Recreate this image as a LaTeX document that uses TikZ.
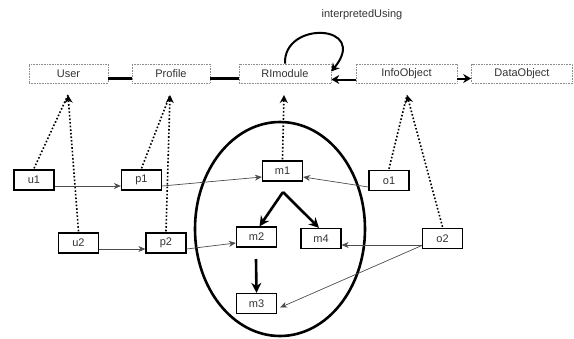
\documentclass[tikz,border=0pt]{standalone}
\usepackage{fontspec}
\setmainfont{Liberation Sans}
\usetikzlibrary{arrows.meta}
\begin{document}
\begin{tikzpicture}[x=1pt,y=-1pt,
  topbox/.style={draw=black!45, densely dotted, line width=0.6pt, fill=white, minimum height=19pt, inner sep=0pt, font=\fontsize{11}{13}\selectfont, text=black!80},
  lowbox/.style={draw=black, line width=1.3pt, fill=white, minimum width=40pt, minimum height=20pt, inner sep=0pt, font=\fontsize{11}{13}\selectfont, text=black!80},
  assoc/.style={line width=2.2pt},
  dotarrow/.style={line width=1.6pt, dotted, -{Stealth[length=8pt,width=8pt]}},
  dotline/.style={line width=1.6pt, dotted},
  thin/.style={line width=0.7pt, draw=black!70, -{Stealth[length=7pt,width=6pt]}},
  bold/.style={line width=2.6pt, -{Stealth[length=10pt,width=10pt]}},
  topArrow/.style={line width=2pt, -{Stealth[length=8pt,width=9pt]}}
]
\useasboundingbox (0,0) rectangle (574,338);
% ellipse
\draw[line width=2.6pt] (280,229) ellipse [x radius=85, y radius=107];

\coordinate (userT) at (68,95);
\coordinate (profT) at (170,95);
\coordinate (rimT) at (284,95);
\coordinate (infoT) at (407,95);

% top row
\node[topbox, minimum width=79pt] (user) at (68.5,73.5) {User};
\node[topbox, minimum width=78pt] (profile) at (171,73.5) {Profile};
\node[topbox, minimum width=92pt] (rim) at (285,73.5) {RImodule};
\node[topbox, minimum width=101pt] (info) at (406.5,73.5) {InfoObject};
\node[topbox, minimum width=101pt] (data) at (522,73.5) {DataObject};
\node[font=\fontsize{11}{13}\selectfont, text=black!80] (lbl) at (362,15) {interpretedUsing};

\draw[assoc] ([yshift=-5pt]user.east) -- ([yshift=-5pt]profile.west);
\draw[assoc] ([yshift=-5pt]profile.east) -- ([yshift=-5pt]rim.west);
\draw[topArrow] ([yshift=-6pt]info.west) -- ([yshift=-6pt]rim.east);
\draw[topArrow] ([yshift=-5pt]info.east) -- ([yshift=-5pt]data.west);
\draw[topArrow] (rim.north) .. controls (283,20) and (370,24) .. ([yshift=2pt]rim.east);

% lower boxes
\node[lowbox] (u1) at (34,180) {u1};
\node[lowbox] (p1) at (141.5,180) {p1};
\node[lowbox] (m1) at (282.5,171) {m1};
\node[lowbox] (o1) at (389,180.5) {o1};
\node[lowbox] (u2) at (78.5,243) {u2};
\node[lowbox] (p2) at (166,243) {p2};
\node[lowbox] (m2) at (256.5,237) {m2};
\node[lowbox] (m4) at (321,238.5) {m4};
\node[lowbox] (o2) at (442.5,238.5) {o2};
\node[lowbox] (m3) at (256.5,303.5) {m3};

\draw[dotline] ([yshift=1pt]u1.north) -- (userT);
\draw[dotarrow] ([yshift=1pt]u2.north) -- (userT);
\draw[dotline] ([yshift=1pt]p1.north) -- (profT);
\draw[dotarrow] ([yshift=1pt]p2.north) -- (profT);
\draw[dotarrow] ([yshift=1pt]m1.north) -- (rimT);
\draw[dotline] ([yshift=1pt]o1.north) -- (infoT);
\draw[dotarrow] ([yshift=1pt]o2.north) -- (infoT);

% thin arrows
\draw[thin] ([yshift=-6pt]u1.east) -- ([yshift=-6pt]p1.west);
\draw[thin] ([yshift=-6pt]p1.east) -- ([yshift=-6pt]m1.west);
\draw[thin] ([yshift=-6.5pt]o1.west) -- ([yshift=-6pt]m1.east);
\draw[thin] ([yshift=-6pt]u2.east) -- ([yshift=-6pt]p2.west);
\draw[thin] ([yshift=-6pt]p2.east) -- ([yshift=-6pt]m2.west);
\draw[thin] ([yshift=-6.5pt]o2.west) -- ([yshift=-6.5pt]m4.east);
\draw[thin] ([yshift=-7pt]o2.west) -- ([xshift=3pt,yshift=-4pt]m3.east);

% bold arrows
\coordinate (fork) at (283,192);
\coordinate (m2b) at (256,259);
\draw[bold] (fork) -- ([xshift=3pt]m2.north);
\draw[bold] (fork) -- ([xshift=-2pt]m4.north);
\draw[bold] (m2b) -- (m3.north);
\end{tikzpicture}
\end{document}
